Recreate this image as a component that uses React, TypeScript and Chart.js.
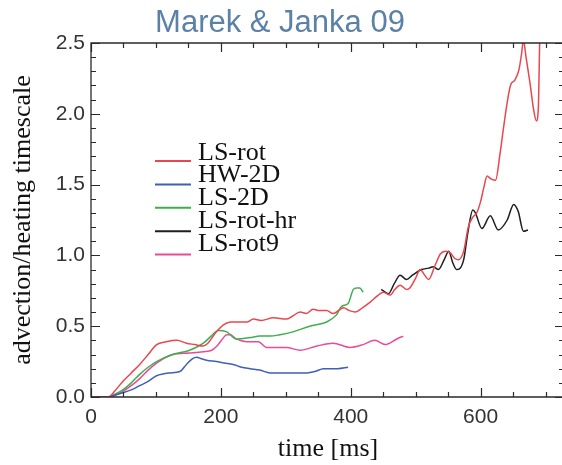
import React, { useEffect, useRef } from "react";
import { Chart, registerables } from "chart.js";

Chart.register(...registerables);

const TITLE = "Marek & Janka 09";
const X_LABEL = "time [ms]";
const Y_LABEL = "advection/heating timescale";

const xTickValues = [0, 200, 400, 600];
const yTickValues = [0, 0.5, 1.0, 1.5, 2.0, 2.5];
const X_MIN = 0;
const X_MAX = 730;
const Y_MIN = 0;
const Y_MAX = 2.5;
const X_MINOR_STEP = 50;
const Y_MINOR_STEP = 0.1;

const seriesNames = ["LS-rot", "HW-2D", "LS-2D", "LS-rot-hr", "LS-rot9"];
const seriesColors = ["#e8474f", "#3f5fb8", "#3daf4f", "#1e1e1e", "#ea4a96"];

// LS-rot
const lsRotT = [0, 27, 38, 49, 62, 75, 88, 101, 116, 132, 147, 160, 172, 180, 193, 204, 215, 224, 240, 250, 262, 281, 301, 310, 322, 332, 342, 352, 363, 373, 389, 398, 407, 418, 430, 440, 450, 461, 468, 476, 486, 491, 500, 507, 514, 520, 530, 538, 546, 553, 560, 566, 574, 581, 588, 594, 600, 605, 610, 616, 623, 630, 635, 641, 646, 653, 659, 663, 666, 670, 676, 682, 686, 689, 691, 694];
const lsRotV = [0, 0, 0.05, 0.11, 0.17, 0.23, 0.30, 0.37, 0.39, 0.40, 0.38, 0.37, 0.36, 0.38, 0.46, 0.51, 0.53, 0.53, 0.53, 0.55, 0.54, 0.56, 0.55, 0.57, 0.60, 0.59, 0.62, 0.61, 0.61, 0.59, 0.63, 0.61, 0.60, 0.63, 0.67, 0.71, 0.74, 0.72, 0.76, 0.79, 0.76, 0.77, 0.84, 0.90, 0.86, 0.83, 0.93, 1.01, 1.03, 1.02, 0.98, 0.97, 1.03, 1.20, 1.27, 1.30, 1.38, 1.48, 1.56, 1.54, 1.53, 1.72, 1.89, 2.08, 2.20, 2.24, 2.31, 2.42, 2.52, 2.40, 2.22, 2.02, 1.95, 2.05, 2.5, 2.9];

// HW-2D
const hw2dT = [26, 49, 62, 75, 88, 101, 121, 137, 147, 156, 163, 170, 178, 193, 205, 219, 232, 245, 260, 276, 286, 306, 332, 345, 358, 380, 396];
const hw2dV = [0, 0.03, 0.05, 0.08, 0.11, 0.15, 0.17, 0.18, 0.23, 0.27, 0.28, 0.27, 0.26, 0.25, 0.24, 0.23, 0.21, 0.20, 0.19, 0.17, 0.17, 0.17, 0.17, 0.18, 0.20, 0.20, 0.21];

// LS-2D
const ls2dT = [29, 49, 62, 75, 88, 101, 126, 152, 173, 185, 196, 209, 224, 245, 260, 276, 291, 311, 337, 363, 378, 386, 396, 404, 409, 414, 419];
const ls2dV = [0, 0.05, 0.10, 0.16, 0.21, 0.25, 0.30, 0.33, 0.38, 0.43, 0.47, 0.46, 0.41, 0.42, 0.43, 0.43, 0.44, 0.46, 0.50, 0.53, 0.58, 0.64, 0.66, 0.76, 0.77, 0.77, 0.74];

// LS-rot-hr
const lsRotHrT = [447, 458, 467, 476, 486, 495, 509, 520, 527, 535, 544, 551, 557, 563, 574, 580, 588, 592, 602, 615, 627, 641, 651, 658, 666, 673];
const lsRotHrV = [0.76, 0.73, 0.80, 0.86, 0.83, 0.86, 0.90, 0.91, 0.92, 0.90, 0.97, 1.03, 0.95, 0.90, 0.97, 1.15, 1.32, 1.30, 1.19, 1.28, 1.18, 1.25, 1.36, 1.31, 1.17, 1.18];

// LS-rot9
const lsRot9T = [0, 29, 49, 62, 75, 88, 101, 126, 152, 173, 186, 194, 201, 209, 214, 224, 240, 258, 270, 281, 301, 322, 348, 373, 399, 419, 437, 453, 471, 481];
const lsRot9V = [0, 0, 0.04, 0.08, 0.13, 0.19, 0.24, 0.30, 0.31, 0.32, 0.33, 0.36, 0.40, 0.44, 0.44, 0.41, 0.39, 0.39, 0.35, 0.35, 0.35, 0.33, 0.36, 0.38, 0.35, 0.37, 0.40, 0.37, 0.41, 0.43];

const seriesT = [lsRotT, hw2dT, ls2dT, lsRotHrT, lsRot9T];
const seriesV = [lsRotV, hw2dV, ls2dV, lsRotHrV, lsRot9V];

const W = 570;
const H = 465;

const decorPlugin = {
  id: "decor",
  afterDraw(chart: any) {
    const ctx = chart.ctx as CanvasRenderingContext2D;
    const { left, right, top, bottom } = chart.chartArea;
    const xs = chart.scales.x;
    const ys = chart.scales.y;
    ctx.save();
    // frame
    ctx.strokeStyle = "#2a2a2a";
    ctx.lineWidth = 1.3;
    ctx.beginPath();
    ctx.rect(left, top, right - left, bottom - top);
    ctx.stroke();
    // ticks
    ctx.lineWidth = 1.2;
    ctx.beginPath();
    for (let v = X_MIN; v <= X_MAX + 1e-6; v += X_MINOR_STEP) {
      const major = xTickValues.some((t) => Math.abs(t - v) < 1e-6);
      const len = major ? 9 : 5;
      const px = Math.round(xs.getPixelForValue(v)) + 0.5;
      ctx.moveTo(px, bottom);
      ctx.lineTo(px, bottom - len);
      ctx.moveTo(px, top);
      ctx.lineTo(px, top + len);
    }
    for (let i = 0; i * Y_MINOR_STEP <= Y_MAX + 1e-6; i++) {
      const v = Y_MIN + i * Y_MINOR_STEP;
      const major = yTickValues.some((t) => Math.abs(t - v) < 1e-6);
      const len = major ? 9 : 5;
      const py = Math.round(ys.getPixelForValue(v)) + 0.5;
      ctx.moveTo(left, py);
      ctx.lineTo(left + len, py);
      ctx.moveTo(right, py);
      ctx.lineTo(right - len - 1, py);
    }
    ctx.stroke();

    // title
    ctx.fillStyle = "#5b81a7";
    ctx.font = "31px 'Liberation Sans', Arial, sans-serif";
    ctx.textAlign = "center";
    ctx.textBaseline = "alphabetic";
    ctx.fillText(TITLE, 280, 32);

    // legend
    ctx.font = "26px 'Liberation Serif', 'Times New Roman', serif";
    ctx.textAlign = "left";
    for (let i = 0; i < seriesNames.length; i++) {
      const lineY = 161 + i * 23.4;
      const textY = 159.5 + i * 22.9;
      ctx.strokeStyle = seriesColors[i];
      ctx.lineWidth = 2;
      ctx.beginPath();
      ctx.moveTo(155, lineY);
      ctx.lineTo(191, lineY);
      ctx.stroke();
      ctx.fillStyle = "#111";
      ctx.fillText(seriesNames[i], 198, textY);
    }
    ctx.restore();
  },
};

export default function App() {
  const ref = useRef<HTMLCanvasElement | null>(null);

  useEffect(() => {
    if (!ref.current) return;
    const datasets = seriesNames.map((name, i) => ({
      label: name,
      data: seriesT[i].map((t, j) => ({ x: t, y: seriesV[i][j] })),
      borderColor: seriesColors[i],
      backgroundColor: seriesColors[i],
      borderWidth: 1.5,
      pointRadius: 0,
      fill: false,
      cubicInterpolationMode: "monotone" as const,
    }));
    const tickFont = { family: "'Liberation Sans', Arial, sans-serif", size: 21 };
    const titleFont = { family: "'Liberation Serif', 'Times New Roman', serif", size: 26 };
    const chart = new Chart(ref.current, {
      type: "line",
      data: { datasets },
      plugins: [decorPlugin],
      options: {
        responsive: false,
        animation: false,
        layout: { padding: { top: 43, right: 5, left: 0, bottom: 0 } },
        plugins: {
          legend: { display: false },
          title: { display: false },
          tooltip: { enabled: false },
        },
        scales: {
          x: {
            type: "linear",
            min: X_MIN,
            max: X_MAX,
            grid: { display: false, drawTicks: false },
            border: { display: false },
            afterBuildTicks: (scale: any) => {
              scale.ticks = xTickValues.map((v) => ({ value: v }));
            },
            afterFit: (scale: any) => {
              scale.height = 68;
            },
            ticks: {
              padding: 8,
              font: tickFont,
              color: "#333",
              maxRotation: 0,
              autoSkip: false,
              callback: (v: any) => String(v),
            },
            title: {
              display: true,
              text: X_LABEL,
              font: titleFont,
              color: "#111",
              padding: { top: 0, bottom: 0 },
            },
          },
          y: {
            type: "linear",
            min: Y_MIN,
            max: Y_MAX,
            grid: { display: false, drawTicks: false },
            border: { display: false },
            afterBuildTicks: (scale: any) => {
              scale.ticks = yTickValues.map((v) => ({ value: v }));
            },
            afterFit: (scale: any) => {
              scale.width = 91;
            },
            ticks: {
              padding: 6,
              font: tickFont,
              color: "#333",
              autoSkip: false,
              callback: (v: any) => Number(v).toFixed(1),
            },
            title: {
              display: true,
              text: Y_LABEL,
              font: titleFont,
              color: "#111",
              padding: { top: 8, bottom: 0 },
            },
          },
        },
      },
    });
    return () => chart.destroy();
  }, []);

  return (
    <div
      style={{
        position: "absolute",
        left: 0,
        top: 0,
        width: 562,
        height: H,
        overflow: "hidden",
        background: "#fff",
      }}
    >
      <canvas ref={ref} width={W} height={H} style={{ width: W, height: H, display: "block" }} />
    </div>
  );
}
